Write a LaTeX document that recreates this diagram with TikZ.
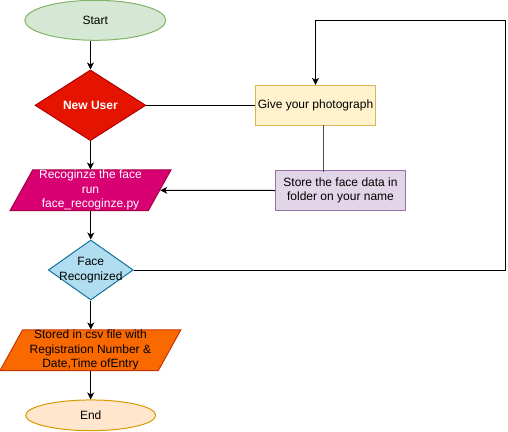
\documentclass[tikz,border=0pt]{standalone}
\usepackage{fontspec}
\setmainfont{Liberation Sans}
\usetikzlibrary{shapes.geometric,arrows.meta}
\definecolor{startfill}{HTML}{D5E8D4}
\definecolor{startline}{HTML}{82B366}
\definecolor{userfill}{HTML}{E51400}
\definecolor{userline}{HTML}{B20000}
\definecolor{photofill}{HTML}{FFF2CC}
\definecolor{photoline}{HTML}{D6B656}
\definecolor{storefill}{HTML}{E1D5E7}
\definecolor{storeline}{HTML}{9673A6}
\definecolor{recfill}{HTML}{D80073}
\definecolor{recline}{HTML}{A50040}
\definecolor{facefill}{HTML}{B1DDF0}
\definecolor{faceline}{HTML}{10739E}
\definecolor{csvfill}{HTML}{FA6800}
\definecolor{csvline}{HTML}{C73500}
\definecolor{endfill}{HTML}{FFE6CC}
\definecolor{endline}{HTML}{D79B00}
\begin{document}
\begin{tikzpicture}[x=1pt,y=-1pt,line width=1pt,
    font=\fontsize{12}{14.5}\selectfont,
    every node/.style={inner sep=0pt,align=center},
    term/.style={ellipse,draw,minimum width=#1,minimum height=40pt},
    choice/.style={diamond,draw},
    io/.style={trapezium,draw,trapezium left angle=63.4,trapezium right angle=116.6,
               trapezium stretches=true,minimum height=40.7pt},
    box/.style={rectangle,draw,minimum height=40pt},
    arr/.style={-{Stealth[length=7pt,width=7pt,inset=2pt]}}]
  \useasboundingbox (0,0) rectangle (508,431);

  \node[term=141pt,fill=startfill,draw=startline] (start) at (95.3,20.3) {Start};
  \node[choice,fill=userfill,draw=userline,text=white,font=\fontsize{12}{14.5}\selectfont\bfseries,
        minimum width=110.7pt,minimum height=70.7pt] (user) at (90.4,105.3) {New User};
  \node[box,fill=photofill,draw=photoline,minimum width=120.4pt] (photo) at (315.5,105.3) {Give your photograph};
  \node[box,fill=storefill,draw=storeline,minimum width=130.4pt,minimum height=39.6pt] (store) at (340.5,190.5)
    {Store the face data in\\folder on your name};
  \node[io,fill=recfill,draw=recline,text=white,minimum width=161pt] (rec) at (90.5,190.3)
    {Recoginze the face\\run\\face\_recoginze.py};
  \node[choice,fill=facefill,draw=faceline,minimum width=85pt,minimum height=60pt,
        label={[align=center]center:Face\\Recognized}] (face) at (90.8,270) {};
  \node[io,fill=csvfill,draw=csvline,minimum width=181pt] (csv) at (90.4,350.3)
    {Stored in csv file with\\Registration Number \&\\Date,Time ofEntry};
  \node[term=130pt,fill=endfill,draw=endline,minimum height=30.7pt] (end) at (90.7,415.3) {End};

  \coordinate (loop) at (505,20.7);
  \coordinate (gs) at (323,125.3);

  \draw[arr] (start.south -| user.north) -- (user.north);
  \draw (user.east) -- (photo.west);
  \draw[black!70] (gs) -- ([yshift=-2pt]gs |- store.north);
  \draw[arr] (store.west) -- (rec.east);
  \draw[arr] (user.south) -- (rec.north -| user.south);
  \draw[arr] (rec.south -| face.north) -- (face.north);
  \draw[arr] (face.east) -| (loop) -| (photo.north);
  \draw[arr] (face.south) -- (csv.north -| face.south);
  \draw[arr] (csv.south -| end.north) -- (end.north);
\end{tikzpicture}
\end{document}
